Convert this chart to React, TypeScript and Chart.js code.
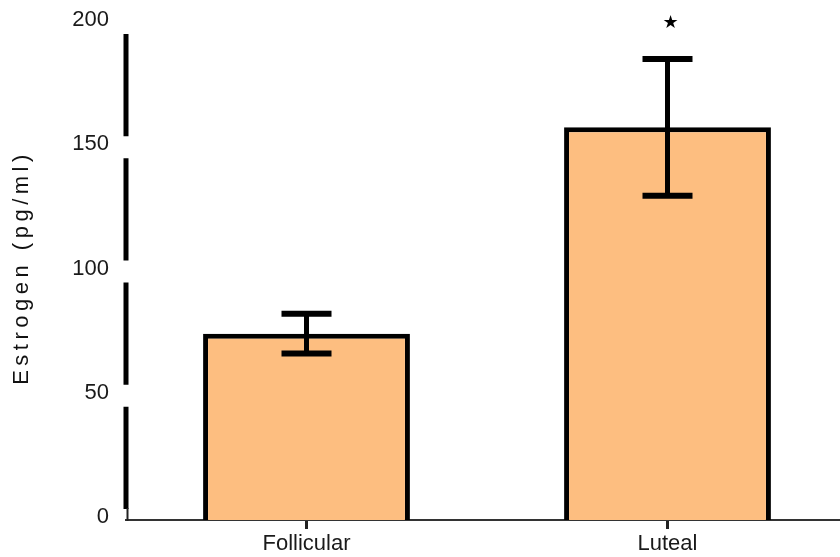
import React, { useEffect, useRef } from "react";
import { Chart, registerables } from "chart.js";

Chart.register(...registerables);

const categories = ["Follicular", "Luteal"];
const means = [75, 158];
const errors = [8, 27.5];
const significance = ["", "★"];
const significanceLevel = 200;
const yTicks = [0, 50, 100, 150, 200];
const yTitle = "Estrogen (pg/ml)";

const FONT = "'Liberation Sans', Arial, Helvetica, sans-serif";

const errorBarPlugin = {
  id: "errorBars",
  afterDatasetsDraw(chart: any) {
    const ctx = chart.ctx;
    const meta = chart.getDatasetMeta(0);
    const y = chart.scales.y;
    ctx.save();
    ctx.strokeStyle = "#000";
    meta.data.forEach((bar: any, i: number) => {
      const x = bar.x;
      const top = y.getPixelForValue(means[i] + errors[i]);
      const bot = y.getPixelForValue(means[i] - errors[i]);
      ctx.lineWidth = 5;
      ctx.beginPath();
      ctx.moveTo(x, top);
      ctx.lineTo(x, bot);
      ctx.stroke();
      ctx.lineWidth = 6;
      ctx.beginPath();
      ctx.moveTo(x - 25, top);
      ctx.lineTo(x + 25, top);
      ctx.moveTo(x - 25, bot);
      ctx.lineTo(x + 25, bot);
      ctx.stroke();
      if (significance[i]) {
        ctx.fillStyle = "#000";
        ctx.font = "18px 'DejaVu Sans', sans-serif";
        ctx.textAlign = "center";
        ctx.textBaseline = "middle";
        ctx.fillText(significance[i], x + 3, y.getPixelForValue(significanceLevel));
      }
    });
    ctx.restore();
  },
};

const brokenAxisPlugin = {
  id: "brokenAxis",
  afterDraw(chart: any) {
    const ctx = chart.ctx;
    const y = chart.scales.y;
    const x = chart.chartArea.left;
    const gap = 11;
    ctx.save();
    ctx.strokeStyle = "#000";
    ctx.lineWidth = 5;
    ctx.beginPath();
    for (let i = 0; i < yTicks.length - 1; i++) {
      const b = y.getPixelForValue(yTicks[i]) - gap;
      const t = y.getPixelForValue(yTicks[i + 1]) + gap;
      ctx.moveTo(x, t);
      ctx.lineTo(x, b);
    }
    ctx.stroke();
    ctx.lineWidth = 2;
    ctx.strokeStyle = "#222";
    ctx.beginPath();
    ctx.moveTo(x + 1.5, y.getPixelForValue(0) - gap - 1);
    ctx.lineTo(x + 1.5, y.getPixelForValue(0) + 1);
    ctx.stroke();

    // y-axis title with letter spacing
    const area = chart.chartArea;
    ctx.fillStyle = "#111";
    ctx.font = `22px ${FONT}`;
    try {
      (ctx as any).letterSpacing = "4.5px";
    } catch (e) {}
    ctx.translate(20, (area.top + area.bottom) / 2 - 4);
    ctx.rotate(-Math.PI / 2);
    ctx.textAlign = "center";
    ctx.textBaseline = "alphabetic";
    ctx.fillText(yTitle, 0, 0);
    ctx.restore();
  },
};

export default function App() {
  const ref = useRef<HTMLCanvasElement>(null);
  useEffect(() => {
    if (!ref.current) return;
    const chart = new Chart(ref.current, {
      type: "bar",
      data: {
        labels: categories,
        datasets: [
          {
            data: means,
            backgroundColor: "rgb(253,190,128)",
            borderColor: "#000",
            borderWidth: 5,
            borderSkipped: "bottom",
            categoryPercentage: 1,
            barPercentage: 0.573,
          },
        ],
      },
      options: {
        animation: false,
        responsive: false,
        layout: { padding: { top: 15, right: 2, left: 0, bottom: 0 } },
        plugins: { legend: { display: false }, tooltip: { enabled: false } },
        scales: {
          x: {
            grid: {
              display: true,
              drawOnChartArea: false,
              drawTicks: true,
              tickLength: 9,
              tickWidth: 3,
              tickColor: "#222",
              offset: false,
            },
            border: { display: true, color: "#333", width: 2 },
            ticks: {
              font: { size: 22, family: FONT },
              color: "#1a1a1a",
              padding: 2,
              maxRotation: 0,
            },
            afterFit(scale: any) {
              scale.height = 37;
              scale.paddingLeft = 0;
              scale.paddingRight = 0;
            },
          },
          y: {
            min: 0,
            max: 200,
            grid: { display: false, drawTicks: false },
            border: { display: false },
            ticks: {
              stepSize: 50,
              font: { size: 22, family: FONT },
              color: "#1a1a1a",
              padding: 17,
              labelOffset: -3,
            },
            afterFit(scale: any) {
              scale.width = 118;
              scale.paddingTop = 0;
              scale.paddingBottom = 0;
            },
          },
        },
      },
      plugins: [errorBarPlugin, brokenAxisPlugin],
    });
    return () => chart.destroy();
  }, []);
  return (
    <div
      style={{
        position: "fixed",
        left: 8,
        top: 8,
        width: 832,
        height: 549,
        overflow: "hidden",
      }}
    >
      <canvas ref={ref} width={842} height={549} style={{ display: "block" }} />
    </div>
  );
}
